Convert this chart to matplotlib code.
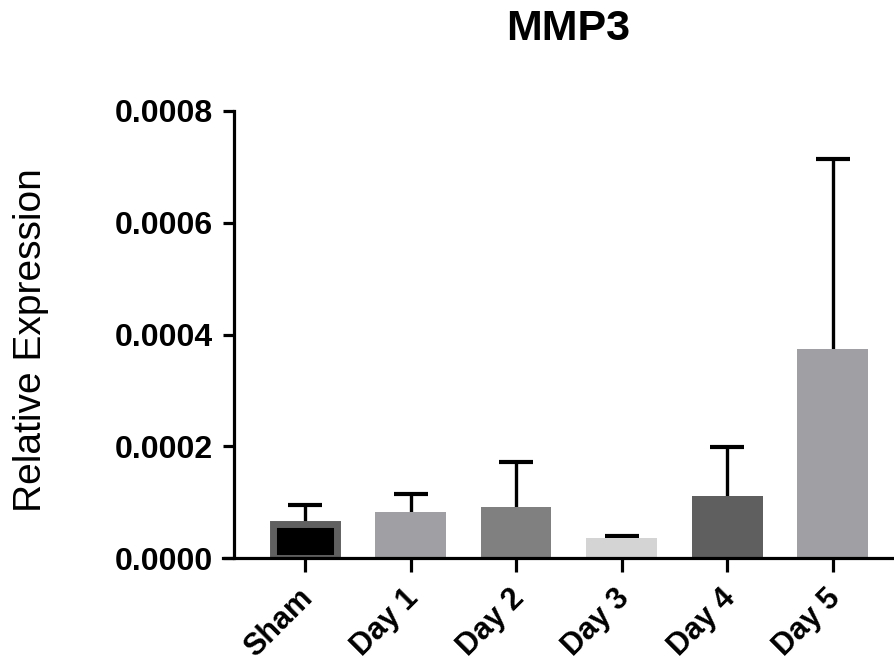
import matplotlib.pyplot as plt
import matplotlib.transforms as mtransforms
from matplotlib.ticker import FixedLocator

plt.rcParams['font.family'] = ['Liberation Sans', 'DejaVu Sans']

#-------------data------------
groups = ["Sham", "Day 1", "Day 2", "Day 3", "Day 4", "Day 5"]
means = [0.000060, 0.0000823, 0.0000913, 0.0000358, 0.000111, 0.000374]
errs = [0.000035, 0.000032, 0.0000805, 0.0000036, 0.0000877, 0.000340]
colors = ["#000000", "#a0a0a4", "#808080", "#d4d4d4", "#5f5f5f", "#a0a0a4"]
yticks = [0.0, 0.0002, 0.0004, 0.0006, 0.0008]

#-------------figure------------
fig = plt.figure(figsize=(8.94, 6.63), dpi=100)
ax = fig.add_axes([223/894, 105/663, 1 - 223/894, 447/663])

x = list(range(len(groups)))
for i in x:
    if i == 0:
        # sham bar: black with a thick dark grey border
        ax.bar(i, means[i], width=0.61, color=colors[i], edgecolor="#606060",
               linewidth=5, zorder=2)
    else:
        ax.bar(i, means[i], width=0.67, color=colors[i], linewidth=0, zorder=2)
    eb = ax.errorbar(i, means[i], yerr=[[0], [errs[i]]], fmt="none", ecolor="black",
                     elinewidth=2.4, capsize=12, capthick=3, zorder=1)
    # only the upper cap is wanted
    for cap in eb[1]:
        if cap.get_ydata()[0] <= means[i]:
            cap.set_visible(False)

ax.set_xlim(-0.777, 5.58)
ax.set_ylim(0, 0.0008)
ax.spines['top'].set_visible(False)
ax.spines['right'].set_visible(False)
ax.spines['left'].set_position(('data', -0.672))
ax.spines['left'].set_linewidth(2.3)
ax.spines['bottom'].set_linewidth(2.3)

ax.yaxis.set_major_locator(FixedLocator(yticks))
ax.set_yticklabels(["%.4f" % v for v in yticks], fontsize=23, fontweight="bold")
ax.tick_params(axis="y", length=8, width=2.3, pad=7)
ax.set_xticks(x)
ax.set_xticklabels(groups, fontsize=22, fontweight="bold", rotation=45,
                   ha="right", rotation_mode="anchor")
ax.tick_params(axis="x", length=10, width=2.3, pad=9)
shift = mtransforms.ScaledTranslation(-0.07, 0.01, fig.dpi_scale_trans)
for lab in ax.get_xticklabels():
    lab.set_transform(lab.get_transform() + shift)

fig.text(31/894, 1 - 340/663, "Relative Expression", fontsize=28,
         rotation=90, ha="center", va="center")
fig.text(568/894, 1 - 40/663, "MMP3", fontsize=31, fontweight="bold",
         ha="center", va="baseline")

fig.savefig("out.png", dpi=100)
